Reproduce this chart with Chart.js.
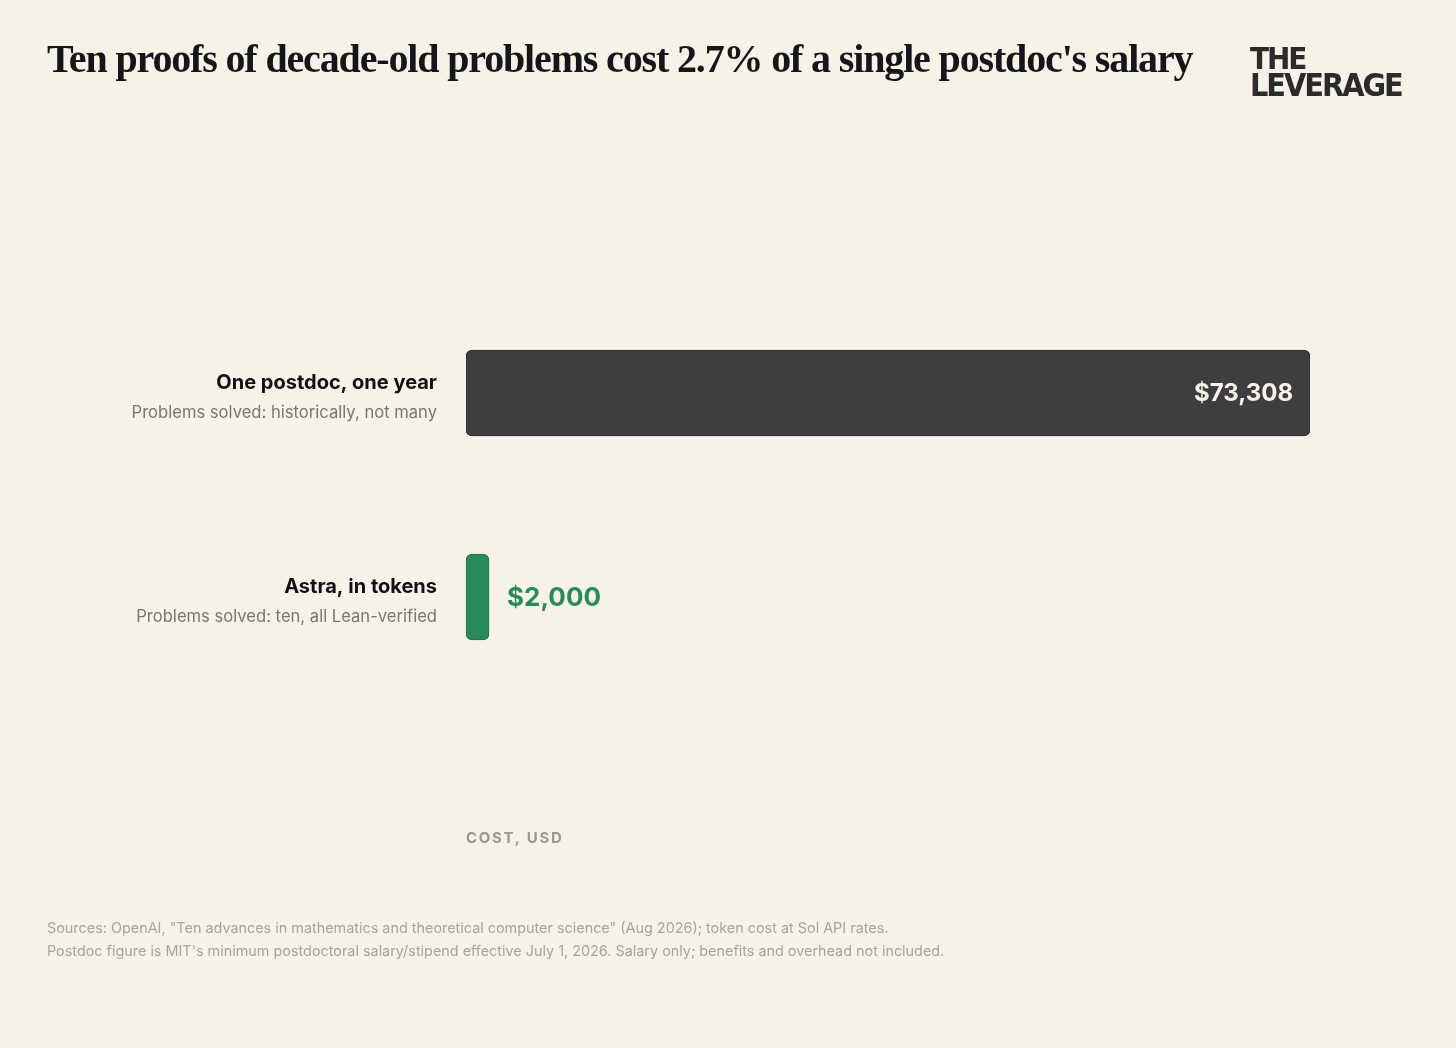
<!DOCTYPE html>
<html>
<head>
<meta charset="utf-8">
<script src="https://cdn.jsdelivr.net/npm/chart.js@4.4.1/dist/chart.umd.min.js"></script>
<style>
  html, body { margin: 0; padding: 0; background: #f7f2e8; }
  #page { position: relative; width: 1456px; height: 1048px; overflow: hidden; background: #f7f2e8; }
  #costChart { position: absolute; left: 0; top: 0; }
  .title {
    position: absolute; left: 47px; top: 35px; margin: 0;
    font-family: "Liberation Serif", "DejaVu Serif", serif; font-weight: 700;
    font-size: 40px; letter-spacing: -1.15px; color: #16161a; white-space: nowrap;
  }
  .logo {
    position: absolute; left: 1250px; top: 45px; color: #2b2b2b;
    font-family: "DejaVu Sans Condensed", "DejaVu Sans", sans-serif; font-weight: 700;
    line-height: 27px; letter-spacing: -2px;
  }
  .logo .l1 { font-size: 31px; }
  .logo .l2 { font-size: 32px; }
  .footer {
    position: absolute; left: 47px; top: 916px; color: #a8a49c;
    font-family: Inter, "Noto Sans", sans-serif; font-size: 14.4px; line-height: 23px;
  }
</style>
</head>
<body>
<div id="page">
  <canvas id="costChart" width="1456" height="1048"></canvas>
  <h1 class="title">Ten proofs of decade-old problems cost 2.7% of a single postdoc's salary</h1>
  <div class="logo"><div class="l1">THE</div><div class="l2">LEVERAGE</div></div>
  <div class="footer">
    Sources: OpenAI, "Ten advances in mathematics and theoretical computer science" (Aug 2026); token cost at Sol API rates.<br>
    Postdoc figure is MIT's minimum postdoctoral salary/stipend effective July 1, 2026. Salary only; benefits and overhead not included.
  </div>
</div>
<script>
// data
const categories = ['One postdoc, one year', 'Astra, in tokens'];
const subtitles = ['Problems solved: historically, not many', 'Problems solved: ten, all Lean-verified'];
const costs = [73308, 2000];
const axisTitle = 'COST, USD';

// colours
const BAR_FILL = ['#3e3e41', '#2a8a58'];
const BAR_EDGE = ['#2c2c2e', '#1f7447'];
const VALUE_INSIDE = '#f7f2e8';
const VALUE_OUTSIDE = '#2a8a58';
const NAME_COLOR = '#111114';
const SUB_COLOR = '#7a7670';
const AXIS_TITLE_COLOR = '#9d9992';

const SANS = 'Inter, "Noto Sans", sans-serif';

function formatUsd(v) {
  return '$' + v.toLocaleString('en-US');
}

// labels left of the bars + value labels
const labelPlugin = {
  id: 'costLabels',
  afterDatasetsDraw(chart) {
    const { ctx, chartArea } = chart;
    const yScale = chart.scales.y;
    const meta = chart.getDatasetMeta(0);
    ctx.save();

    categories.forEach((name, i) => {
      const y = yScale.getPixelForValue(i);
      ctx.textAlign = 'right';
      ctx.textBaseline = 'middle';
      ctx.fillStyle = NAME_COLOR;
      ctx.font = `700 20px ${SANS}`;
      ctx.fillText(name, chartArea.left - 29, y - 10);
      ctx.fillStyle = SUB_COLOR;
      ctx.font = `400 16.6px ${SANS}`;
      ctx.fillText(subtitles[i], chartArea.left - 29, y + 20);
    });

    meta.data.forEach((bar, i) => {
      const label = formatUsd(costs[i]);
      const w = bar.x - bar.base;
      ctx.textBaseline = 'middle';
      if (w > 200) {
        ctx.textAlign = 'right';
        ctx.fillStyle = VALUE_INSIDE;
        ctx.font = `700 24px ${SANS}`;
        ctx.fillText(label, bar.x - 17, bar.y + 1);
      } else {
        ctx.textAlign = 'left';
        ctx.fillStyle = VALUE_OUTSIDE;
        ctx.font = `700 26px ${SANS}`;
        ctx.fillText(label, bar.x + 18, bar.y + 1);
      }
    });

    ctx.textAlign = 'left';
    ctx.textBaseline = 'middle';
    ctx.fillStyle = AXIS_TITLE_COLOR;
    ctx.font = `700 15px ${SANS}`;
    ctx.letterSpacing = '1.7px';
    ctx.fillText(axisTitle, chartArea.left, chartArea.bottom + 139);
    ctx.restore();
  },
};

new Chart(document.getElementById('costChart'), {
  type: 'bar',
  data: {
    labels: categories,
    datasets: [{
      data: costs,
      backgroundColor: BAR_FILL,
      borderColor: BAR_EDGE,
      borderWidth: 1,
      borderRadius: 6,
      borderSkipped: false,
      barThickness: 86,
    }],
  },
  options: {
    indexAxis: 'y',
    responsive: false,
    animation: false,
    layout: { padding: { left: 466, right: 146, top: 291, bottom: 349 } },
    plugins: { legend: { display: false }, tooltip: { enabled: false } },
    scales: {
      x: { display: false, min: 0, max: Math.max(...costs) },
      y: { display: false },
    },
  },
  plugins: [labelPlugin],
});
</script>
</body>
</html>
